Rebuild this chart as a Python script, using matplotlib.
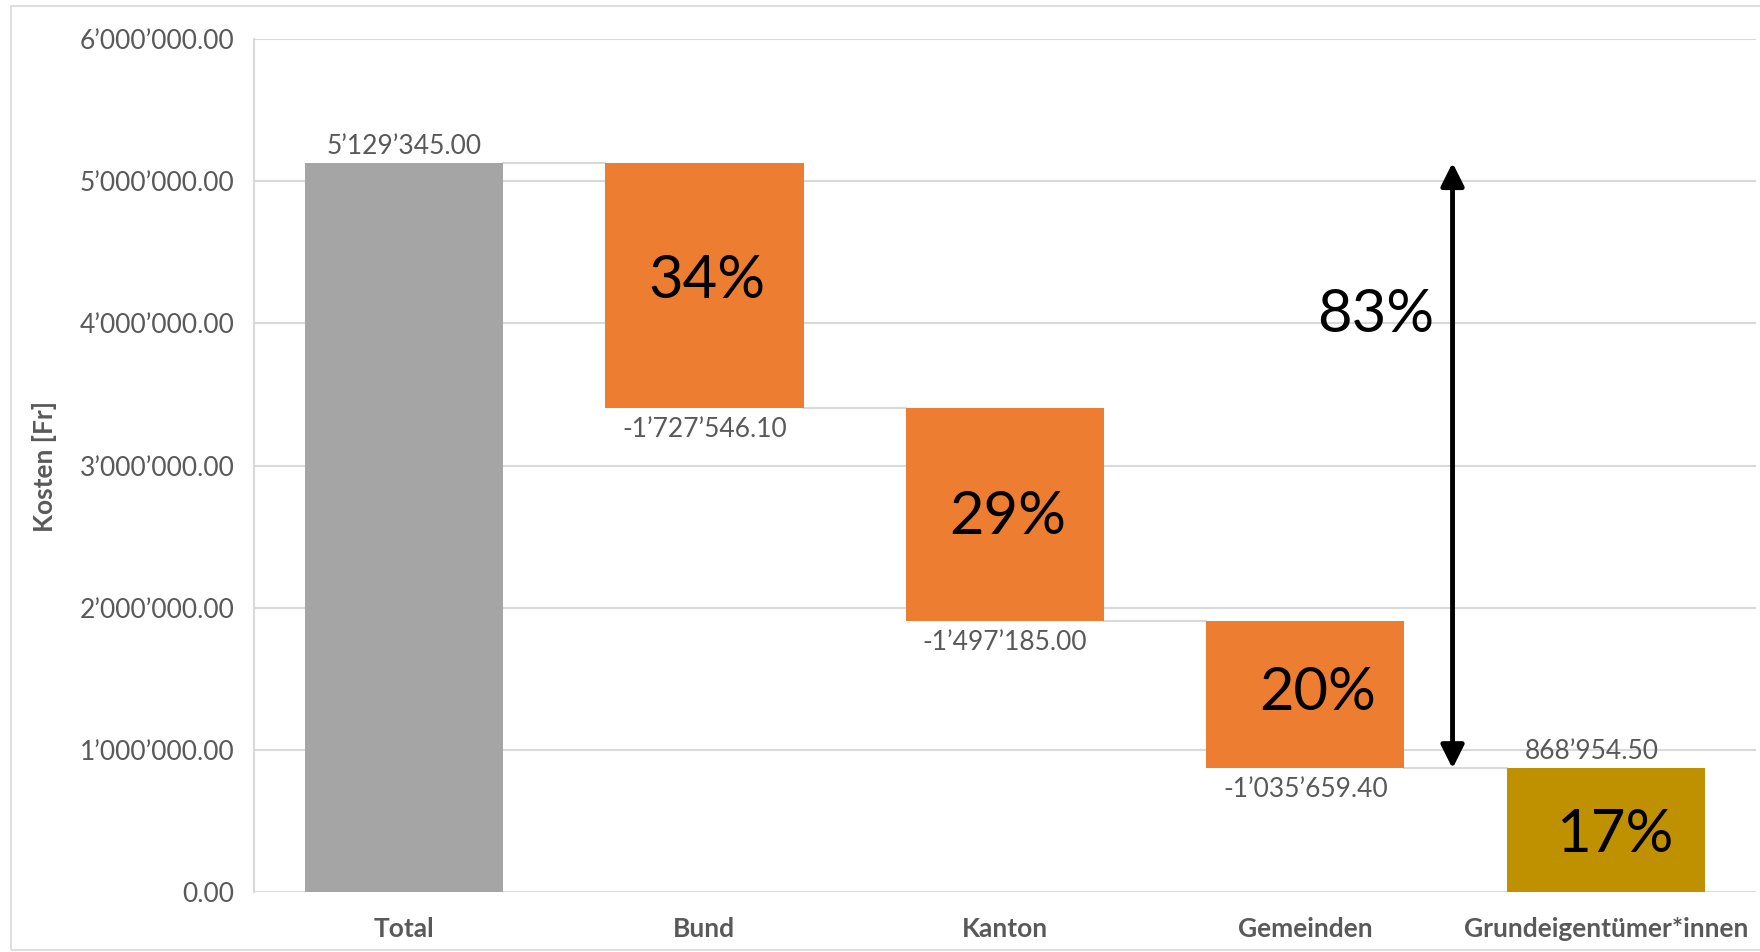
import numpy as np
import matplotlib
matplotlib.use('Agg')
import matplotlib.pyplot as plt
from matplotlib.patches import Rectangle

# data
categories = ["Total", "Bund", "Kanton", "Gemeinden", "Grundeigentümer*innen"]
total = 5129345.00
contributions = [-1727546.10, -1497185.00, -1035659.40]
remainder = 868954.50
percent_labels = ["34%", "29%", "20%", "17%"]
share_total = "83%"
y_ticks = [0, 1000000, 2000000, 3000000, 4000000, 5000000, 6000000]


def swiss_fmt(v):
    s = f"{v:,.2f}"
    return s.replace(",", "\u2019")


plt.rcParams['font.family'] = ['Lato', 'DejaVu Sans']

GRAY_TXT = "#595959"
GRID = "#d9d9d9"

fig = plt.figure(figsize=(17.6, 9.52), dpi=100)
ax = fig.add_axes([253.7 / 1760, 1 - 892 / 952, (1756 - 253.7) / 1760, (892 - 39) / 952])

# waterfall geometry
bottoms = [0]
heights = [total]
level = total
for c in contributions:
    bottoms.append(level + c)
    heights.append(-c)
    level += c
bottoms.append(0)
heights.append(remainder)
colors = ["#A5A5A5", "#ED7D31", "#ED7D31", "#ED7D31", "#BF9000"]

x = np.arange(len(categories))
width = 0.66
ax.bar(x, heights, bottom=bottoms, width=width, color=colors, zorder=3)

# connector lines
levels = [total, bottoms[1], bottoms[2], bottoms[3]]
for i, lv in enumerate(levels):
    ax.plot([i + width / 2, i + 1 - width / 2], [lv, lv], color=GRID, lw=1.5, zorder=2)

# value labels
ax.annotate(swiss_fmt(total), (0, total), xytext=(0, 3), textcoords="offset points",
            ha="center", va="bottom", fontsize=19, color=GRAY_TXT)
for i, c in enumerate(contributions, start=1):
    ax.annotate(swiss_fmt(c), (i, bottoms[i]), xytext=(0, -6), textcoords="offset points",
                ha="center", va="top", fontsize=19, color=GRAY_TXT)
ax.annotate(swiss_fmt(remainder), (4, remainder), xytext=(-10, 3), textcoords="offset points",
            ha="center", va="bottom", fontsize=19, color=GRAY_TXT)

# big percentages
pct_pos = [(1.01, 4.30e6), (2.01, 2.64e6), (3.04, 1.40e6), (4.03, 0.40e6)]
for (px, py), lab in zip(pct_pos, percent_labels):
    ax.text(px, py, lab, ha="center", va="center", fontsize=43, color="black", zorder=5)

# double arrow for the public share
ax.annotate("", xy=(3.49, total), xytext=(3.49, remainder),
            arrowprops=dict(arrowstyle="<|-|>", color="black", lw=3.5,
                            mutation_scale=35, shrinkA=0, shrinkB=0), zorder=5)
ax.text(3.235, 4.06e6, share_total, ha="center", va="center", fontsize=43, color="black")

# axes styling
ax.set_xlim(-0.5, 4.5)
ax.set_ylim(0, 6000000)
ax.set_yticks(y_ticks)
ax.set_yticklabels([swiss_fmt(v) for v in y_ticks], fontsize=19, color=GRAY_TXT)
ax.set_xticks(x)
ax.set_xticklabels(categories, fontsize=19, fontweight="bold", color=GRAY_TXT)
ax.tick_params(axis="both", length=0)
ax.tick_params(axis="y", pad=14)
ax.tick_params(axis="x", pad=18)
ax.grid(axis="y", color=GRID, lw=1.5, zorder=0)
for side in ["top", "right", "bottom"]:
    ax.spines[side].set_visible(False)
ax.spines["left"].set_color(GRID)
ax.spines["left"].set_linewidth(1.5)
ax.set_ylabel("Kosten [Fr]", fontsize=19, fontweight="bold", color=GRAY_TXT, labelpad=0)
ax.yaxis.set_label_coords(-(253.7 - 57) / (1756 - 253.7), (892 - 466) / (892 - 39))

# outer chart frame
fig.patches.append(Rectangle((11 / 1760, 2 / 952), 1760 / 1760, 944 / 952,
                             transform=fig.transFigure, fill=False,
                             edgecolor=GRID, lw=1.2))

fig.savefig("out.png", dpi=100)
